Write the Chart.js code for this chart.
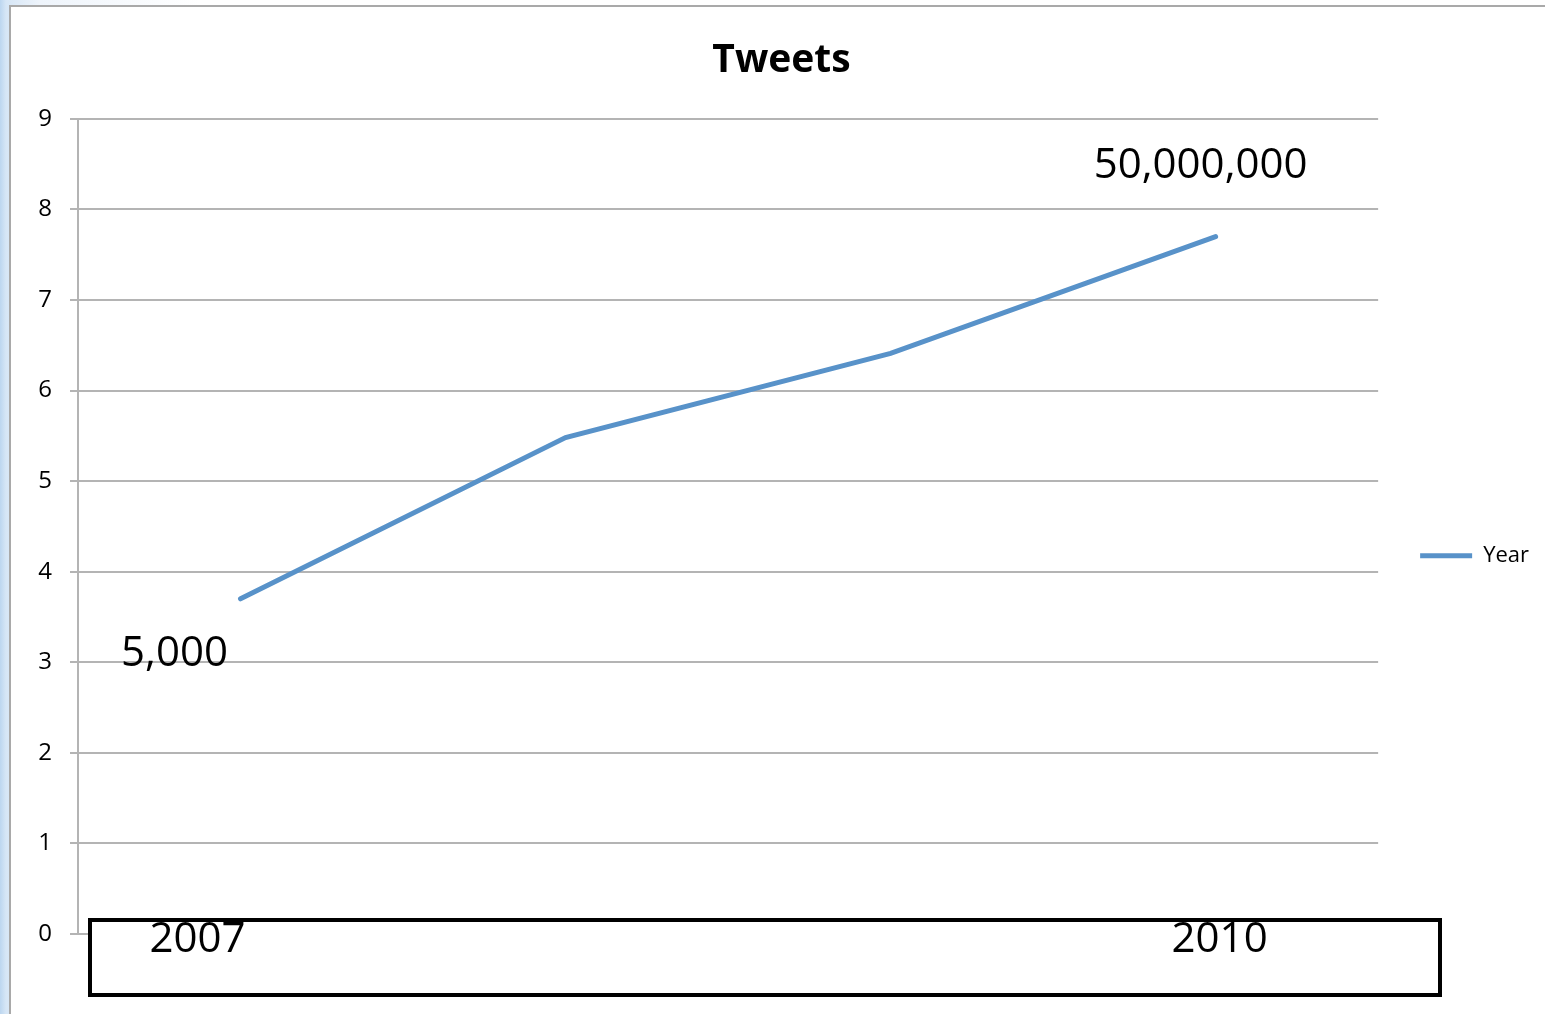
<!DOCTYPE html>
<html>
<head>
<meta charset="utf-8">
<script src="https://cdn.jsdelivr.net/npm/chart.js@4/dist/chart.umd.min.js"></script>
<style>
  html, body { margin: 0; padding: 0; }
  body {
    width: 1545px; height: 1014px; overflow: hidden; position: relative;
    background: linear-gradient(90deg, #bcd6ef 0px, #d6e6f6 6px, #eef4fb 40px, #ffffff 200px);
  }
  #frame {
    position: absolute; left: 9px; top: 5px; width: 1600px; height: 1100px;
    background: #fff; border-left: 2px solid #a9a9a9; border-top: 2px solid #a9a9a9;
  }
  #wrap { position: absolute; left: 0; top: 0; width: 1545px; height: 1014px; }
</style>
</head>
<body>
<div id="frame"></div>
<div id="wrap"><canvas id="grafico" width="1545" height="1014"></canvas></div>
<script>
// dados do gráfico
const categorias = ["2007", "2008", "2009", "2010"];
const valores = [3.7, 5.48, 6.41, 7.7];
const rotulosPontos = ["5,000", "", "", "50,000,000"];
const rotulosCaixa = ["2007", "2010"];
const nomeSerie = "Year";
const corLinha = "#5892c9";
const corGrade = "#b4b4b4";

// desenha rótulos e a caixa por cima do gráfico
const anotacoes = {
    id: "anotacoes",
    afterDatasetsDraw(chart) {
        const ctx = chart.ctx;
        const x = chart.scales.x;
        const y = chart.scales.y;
        const area = chart.chartArea;
        ctx.save();
        ctx.fillStyle = "#000";
        ctx.font = "42px 'Open Sans'";
        ctx.textAlign = "center";
        ctx.textBaseline = "middle";

        // rótulos perto dos pontos
        const desloc = [[-66, 55], [0, 0], [0, 0], [-15, -71]];
        rotulosPontos.forEach((txt, i) => {
            if (!txt) return;
            const px = x.getPixelForValue(i);
            const py = y.getPixelForValue(valores[i]);
            ctx.fillText(txt, px + desloc[i][0], py + desloc[i][1]);
        });

        // caixa preta em baixo
        const topo = y.getPixelForValue(0) - 16;
        ctx.fillStyle = "#fff";
        ctx.fillRect(area.left + 10, topo, 1354, 79);
        ctx.lineWidth = 4;
        ctx.strokeStyle = "#000";
        ctx.strokeRect(area.left + 12, topo + 2, 1350, 75);
        ctx.fillStyle = "#000";
        ctx.fillText(rotulosCaixa[0], x.getPixelForValue(0) - 43, topo + 22);
        ctx.fillText(rotulosCaixa[1], x.getPixelForValue(categorias.length - 1) + 4, topo + 22);
        ctx.restore();
    }
};

new Chart(document.getElementById("grafico"), {
    type: "line",
    data: {
        labels: categorias,
        datasets: [{
            label: nomeSerie,
            data: valores,
            borderColor: corLinha,
            backgroundColor: corLinha,
            borderWidth: 5,
            borderCapStyle: "round",
            pointRadius: 0,
            tension: 0
        }]
    },
    options: {
        responsive: false,
        animation: false,
        devicePixelRatio: 1,
        layout: { padding: { left: 24, right: 6, top: 37, bottom: 80 } },
        plugins: {
            legend: {
                position: "right",
                align: "center",
                title: { display: true, text: " ", padding: { top: 126, bottom: 0 }, font: { size: 12 } },
                labels: {
                    usePointStyle: true,
                    pointStyle: "line",
                    pointStyleWidth: 52,
                    padding: 42,
                    color: "#000",
                    font: { family: "'Open Sans'", size: 22 }
                }
            },
            tooltip: { enabled: false },
            title: {
                display: true,
                text: "Tweets",
                color: "#000",
                font: { family: "'Open Sans'", size: 39, weight: "bold", lineHeight: 1.2 },
                padding: { top: 0, bottom: 35 }
            }
        },
        scales: {
            x: {
                offset: true,
                grid: { display: false },
                border: { display: false },
                ticks: { display: false },
                afterFit: (s) => { s.height = 0; }
            },
            y: {
                min: 0,
                max: 9,
                ticks: {
                    stepSize: 1,
                    color: "#000",
                    padding: 18,
                    font: { family: "'Open Sans'", size: 24 }
                },
                grid: { color: corGrade, lineWidth: 2, tickLength: 8 },
                border: { color: corGrade, width: 2 },
                afterFit: (s) => { s.width = 54; }
            }
        }
    },
    plugins: [anotacoes]
});
</script>
</body>
</html>
